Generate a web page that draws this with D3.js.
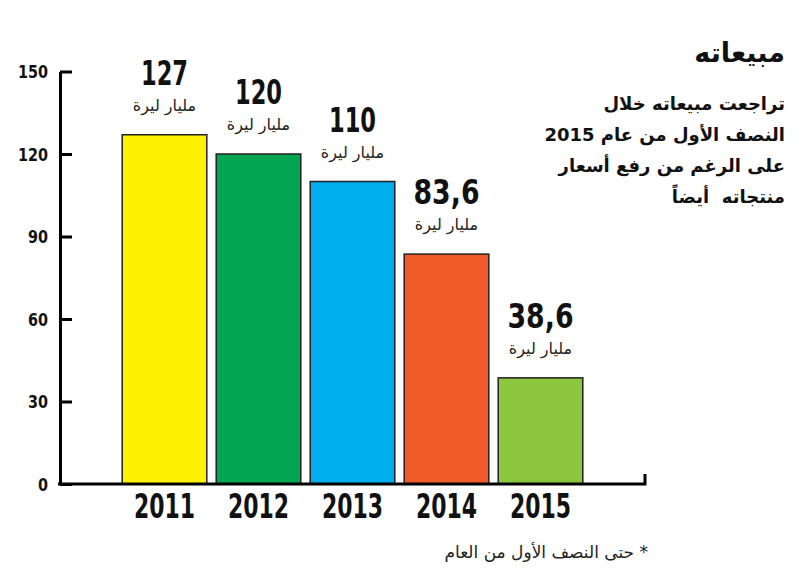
<!DOCTYPE html>
<html>
<head>
<meta charset="utf-8">
<script src="https://cdn.jsdelivr.net/npm/d3@7"></script>
<style>
  body { margin: 0; background: #fff; }
  svg { display: block; }
</style>
</head>
<body>
<svg id="chart"></svg>
<script>
const W = 800, H = 581;

// data
const years = ["2011", "2012", "2013", "2014", "2015"];
const sales = [127, 120, 110, 83.6, 38.6];
const valueLabels = ["127", "120", "110", "83,6", "38,6"];
const barColors = ["#fff200", "#00a651", "#00aeef", "#f15a29", "#8dc63f"];
const yTicks = [0, 30, 60, 90, 120, 150];
const unitLabel = "مليار ليرة";
const title = "مبيعاته";
const subtitle = ["تراجعت مبيعاته خلال", "النصف الأول من عام 2015", "على الرغم من رفع أسعار", "منتجاته  أيضاً"];
const footnote = "* حتى النصف الأول من العام";

const arabicFont = "'DejaVu Sans', sans-serif";
const numFont = "'DejaVu Sans Condensed', 'DejaVu Sans', sans-serif";

const svg = d3.select("#chart").attr("width", W).attr("height", H);

var x = d3.scaleBand()
  .domain(years)
  .range([117.5, 587.5])
  .paddingInner(0.1)
  .paddingOuter(0.05);

var y = d3.scaleLinear()
  .domain([0, 150])
  .range([484, 71.5]);

// the big numbers use a very narrow face; squeeze them to the widths in the picture
function squeeze(s) {
  return s.length === 4 && s.indexOf(",") < 0 ? 61 : (s.indexOf(",") >= 0 ? 66 : 47);
}

// bars
svg.append("g")
  .selectAll("rect")
  .data(years)
  .enter()
  .append("rect")
    .attr("x", d => x(d))
    .attr("y", (d, i) => y(sales[i]))
    .attr("width", x.bandwidth())
    .attr("height", (d, i) => y(0) - y(sales[i]))
    .attr("fill", (d, i) => barColors[i])
    .attr("stroke", "#231f20")
    .attr("stroke-width", 1.5);

// y axis: ticks point right, labels on the left
var yAxis = svg.append("g")
  .attr("transform", "translate(60,0)")
  .call(d3.axisLeft(y).tickValues(yTicks).tickSizeInner(-12).tickSizeOuter(0).tickPadding(12));
yAxis.select(".domain").attr("stroke", "#000").attr("stroke-width", 3);
yAxis.selectAll(".tick line").attr("stroke", "#000").attr("stroke-width", 3);
yAxis.selectAll(".tick text")
  .attr("font-family", numFont)
  .attr("font-weight", "bold")
  .attr("font-size", 18)
  .attr("fill", "#111")
  .attr("dy", "0.36em")
  .attr("textLength", 30)
  .attr("lengthAdjust", "spacingAndGlyphs");
yAxis.selectAll(".tick text").filter(d => d < 100)
  .attr("textLength", 20);
yAxis.selectAll(".tick text").filter(d => d === 0)
  .attr("textLength", 10);

// x axis: years under the bars
var xAxis = svg.append("g")
  .attr("transform", "translate(0," + y(0) + ")")
  .call(d3.axisBottom(x).tickSize(0).tickPadding(10));
xAxis.select(".domain").remove();
xAxis.selectAll(".tick text")
  .attr("font-family", numFont)
  .attr("font-weight", "bold")
  .attr("font-size", 34)
  .attr("fill", "#111")
  .attr("dy", "0.71em")
  .attr("textLength", d => squeeze(d))
  .attr("lengthAdjust", "spacingAndGlyphs");

// baseline with small end mark on the right
svg.append("path")
  .attr("d", "M58," + y(0) + "H645V" + (y(0) - 10))
  .attr("fill", "none")
  .attr("stroke", "#000")
  .attr("stroke-width", 3);

// value labels
var labels = svg.append("g");
labels.selectAll(".val")
  .data(years)
  .enter()
  .append("text")
    .attr("class", "val")
    .attr("x", d => x(d) + x.bandwidth() / 2)
    .attr("y", (d, i) => y(sales[i]) - 50)
    .attr("text-anchor", "middle")
    .attr("font-family", numFont)
    .attr("font-weight", "bold")
    .attr("font-size", 34)
    .attr("fill", "#111")
    .attr("textLength", (d, i) => squeeze(valueLabels[i]))
    .attr("lengthAdjust", "spacingAndGlyphs")
    .text((d, i) => valueLabels[i]);

labels.selectAll(".unit")
  .data(years)
  .enter()
  .append("text")
    .attr("class", "unit")
    .attr("x", d => x(d) + x.bandwidth() / 2)
    .attr("y", (d, i) => y(sales[i]) - 24)
    .attr("text-anchor", "middle")
    .attr("font-family", arabicFont)
    .attr("font-size", 16)
    .attr("fill", "#222")
    .text(unitLabel);

// title block on the right
svg.append("text")
  .attr("x", 785)
  .attr("y", 62)
  .attr("direction", "rtl")
  .attr("text-anchor", "start")
  .attr("font-family", arabicFont)
  .attr("font-weight", "bold")
  .attr("font-size", 27)
  .attr("fill", "#111")
  .text(title);

svg.append("g")
  .selectAll("text")
  .data(subtitle)
  .enter()
  .append("text")
    .attr("x", 785)
    .attr("y", (d, i) => 110 + i * 31)
    .attr("direction", "rtl")
    .attr("text-anchor", "start")
    .attr("font-family", arabicFont)
    .attr("font-weight", "bold")
    .attr("font-size", 18)
    .attr("fill", "#111")
    .style("white-space", "pre")
    .text(d => d);

// footnote
svg.append("text")
  .attr("x", 648)
  .attr("y", 558)
  .attr("direction", "rtl")
  .attr("text-anchor", "start")
  .attr("font-family", arabicFont)
  .attr("font-size", 17)
  .attr("fill", "#222")
  .text(footnote);
</script>
</body>
</html>
